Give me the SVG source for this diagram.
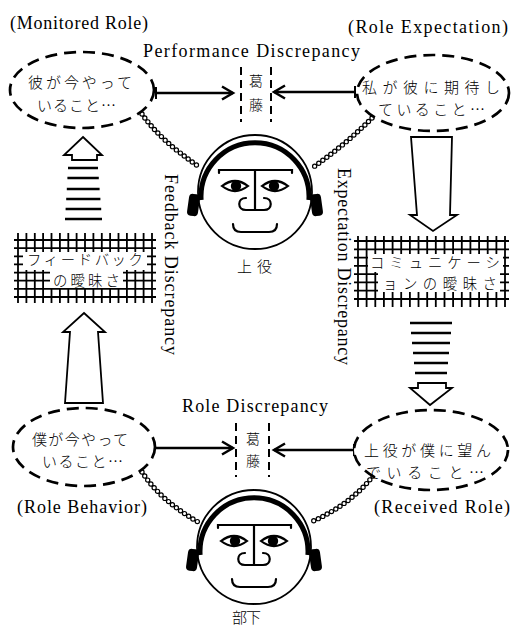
<svg xmlns="http://www.w3.org/2000/svg" xmlns:xlink="http://www.w3.org/1999/xlink" width="512" height="629" viewBox="0 0 512 629">
  <style>
    .en { font-family: "Liberation Serif", "Times New Roman", serif; font-size: 18px; fill: #000; }
    .ja { font-family: "Noto Sans CJK JP", sans-serif; font-size: 15px; font-weight: 300; fill: #000; }
    .sm { font-size: 14px; }
    .grid-txt { font-size: 14.4px; }
    .bubble { fill: #fff; stroke: #000; stroke-width: 2.7; stroke-dasharray: 12 7; }
    .split { stroke: #000; stroke-width: 2; stroke-dasharray: 8 5; fill: none; }
    .arrow { stroke: #000; stroke-width: 2.5; fill: none; marker-start: url(#tick); marker-end: url(#head); }
    .hollow { fill: #fff; stroke: #000; stroke-width: 1.8; stroke-linejoin: miter; }
    .bars { stroke: #000; stroke-width: 2.7; fill: none; }
    .grid { stroke: #000; stroke-width: 1.8; fill: none; }
    .chain-o { fill: none; stroke: #000; stroke-width: 5.4; stroke-linecap: round; stroke-dasharray: 0 5; }
    .chain-i { fill: none; stroke: #fff; stroke-width: 3; stroke-linecap: round; stroke-dasharray: 0 5; }
    .line { fill: none; stroke: #000; stroke-width: 2.2; stroke-linecap: round; }
  </style>
  <defs>
    <marker id="head" markerUnits="userSpaceOnUse" markerWidth="16" markerHeight="16" refX="13" refY="8" orient="auto">
      <path d="M2 1.5 L13 8 L2 14.5" fill="none" stroke="#000" stroke-width="2.5"/>
    </marker>
    <marker id="tick" markerUnits="userSpaceOnUse" markerWidth="6" markerHeight="16" refX="3" refY="8" orient="auto">
      <path d="M3 2 V14" stroke="#000" stroke-width="2"/>
    </marker>
    <!-- face with headphones, drawn around (0,0) -->
    <g id="face">
      <circle r="57" fill="#fff" stroke="#000" stroke-width="1.8"/>
      <path d="M-53.9 8 A54 54 0 1 1 53.9 8" fill="none" stroke="#000" stroke-width="5"/>
      <rect x="-67" y="2" width="11" height="22" rx="4" fill="#000" transform="rotate(8 -61.5 13)"/>
      <rect x="56" y="2" width="11" height="22" rx="4" fill="#000" transform="rotate(-8 61.5 13)"/>
      <path class="line" d="M-36 -19 V-22 H37 V-19"/>
      <path class="line" d="M0 -22 V18"/>
      <path class="line" d="M-9 6 C-18 6 -18 18 -9 18 H9 C18 18 18 6 9 6"/>
      <path class="line" d="M-33 -6 Q-20 -16 -7 -6 Q-20 4 -33 -6 Z"/>
      <path class="line" d="M7 -6 Q20 -16 33 -6 Q20 4 7 -6 Z"/>
      <circle cx="-19" cy="-6" r="5.2" fill="#000"/>
      <circle cx="19" cy="-6" r="5.2" fill="#000"/>
      <path class="line" d="M-22 32 Q-22 40 -14 40 H14 Q22 40 22 32"/>
    </g>
    <path id="chain-tl" d="M142 114 Q160 140 198 166"/>
    <path id="chain-tr" d="M372 118 Q345 145 312 168"/>
    <path id="chain-bl" d="M142 472 Q160 500 198 522"/>
    <path id="chain-br" d="M373 476 Q350 505 311 522"/>
  </defs>

  <rect width="512" height="629" fill="#fff"/>

  <!-- connectors: chains, flow arrows, conflict arrows -->
  <g id="connectors">
    <use xlink:href="#chain-tl" class="chain-o"/><use xlink:href="#chain-tl" class="chain-i"/>
    <use xlink:href="#chain-tr" class="chain-o"/><use xlink:href="#chain-tr" class="chain-i"/>
    <use xlink:href="#chain-bl" class="chain-o"/><use xlink:href="#chain-bl" class="chain-i"/>
    <use xlink:href="#chain-br" class="chain-o"/><use xlink:href="#chain-br" class="chain-i"/>

    <path class="arrow" d="M156 93 H233"/>
    <path class="arrow" d="M355 92 H274"/>
    <path class="arrow" d="M154 448 H233"/>
    <path class="arrow" d="M354 450 H274"/>

    <!-- feedback: up arrows -->
    <path class="hollow" d="M83 137 L102 155 H97 V160 H72 V155 H64 Z"/>
    <path class="bars" d="M68 168 H98 M67.4 178 H98.8 M66.8 189 H99.6 M66.2 199 H100.4 M65.6 209 H101.2 M65 219 H102"/>
    <path class="hollow" d="M84 313 L105 332 H98 L103 403 H65 L70 332 H63 Z"/>

    <!-- expectation: down arrows -->
    <path class="hollow" d="M411 137 H452 L450 215 H457 L433 231 L410 215 H417 Z"/>
    <path class="bars" d="M410 323 H452 M411 333 H451 M412 343 H450 M413 353 H449 M414 363 H448 M415 373 H447"/>
    <path class="hollow" d="M418 383 H446 V388 H452 L430 405 L410 388 H418 Z"/>
  </g>

  <!-- labels -->
  <g id="labels">
    <text class="en" x="10" y="29" textLength="138">(Monitored Role)</text>
    <text class="en" x="348" y="33" textLength="160">(Role Expectation)</text>
    <text class="en" x="143" y="57" textLength="217">Performance Discrepancy</text>
    <text class="en" x="182" y="412" textLength="146">Role Discrepancy</text>
    <text class="en" x="17" y="513" textLength="130">(Role Behavior)</text>
    <text class="en" x="374" y="513" textLength="136">(Received Role)</text>
    <text class="en" transform="translate(165 174) rotate(90)" textLength="181">Feedback Discrepancy</text>
    <text class="en" transform="translate(338 168) rotate(90)" textLength="197">Expectation Discrepancy</text>
  </g>

  <!-- conflict marks -->
  <g id="conflict-top">
    <path class="split" d="M241 67 V122 M271 67 V122"/>
    <text class="ja sm" x="256" y="86" text-anchor="middle">葛</text>
    <text class="ja sm" x="256" y="110" text-anchor="middle">藤</text>
  </g>
  <g id="conflict-bottom">
    <path class="split" d="M236 423 V477 M269 423 V477"/>
    <text class="ja sm" x="253" y="444" text-anchor="middle">葛</text>
    <text class="ja sm" x="253" y="466" text-anchor="middle">藤</text>
  </g>

  <g id="monitored-role">
    <ellipse class="bubble" cx="82" cy="90" rx="72" ry="38"/>
    <text class="ja" x="28" y="88" font-size="15.5" textLength="104">彼が今やって</text>
    <text class="ja" x="37" y="111" font-size="15.5" textLength="79">いること…</text>
  </g>

  <g id="role-expectation">
    <ellipse class="bubble" cx="433" cy="93" rx="76" ry="38"/>
    <text class="ja" x="362" y="93" textLength="138">私が彼に期待し</text>
    <text class="ja" x="378" y="115" textLength="107">ていること…</text>
  </g>

  <g id="role-behavior">
    <ellipse class="bubble" cx="84" cy="447" rx="71" ry="39"/>
    <text class="ja" x="32" y="445" textLength="96">僕が今やって</text>
    <text class="ja" x="42" y="467" textLength="81">いること…</text>
  </g>

  <g id="received-role">
    <ellipse class="bubble" cx="431" cy="450" rx="77" ry="40"/>
    <text class="ja" x="364" y="456" textLength="127">上役が僕に望ん</text>
    <text class="ja" x="366" y="478" textLength="118">でいること…</text>
  </g>

  <g id="boss">
    <use xlink:href="#face" x="255" y="192"/>
    <text class="ja" x="237" y="272" font-size="16" textLength="35">上役</text>
  </g>

  <g id="subordinate">
    <use xlink:href="#face" x="254" y="547"/>
    <text class="ja" x="232" y="623" font-size="16" textLength="29">部下</text>
  </g>

  <g id="feedback-ambiguity">
    <path class="grid" d="M18 233V303M26.4 233V303M34.8 233V303M43.1 233V303M51.5 233V303M59.9 233V303M68.3 233V303M76.6 233V303M85 233V303M93.4 233V303M101.8 233V303M110.1 233V303M118.5 233V303M126.9 233V303M135.3 233V303M143.6 233V303M152 233V303"/>
    <path class="grid" d="M14 240H156M14 248.1H156M14 256.3H156M14 264.4H156M14 272.6H156M14 280.7H156M14 288.9H156M14 297H156"/>
    <rect x="23" y="252" width="124" height="18" fill="#fff"/>
    <rect x="50" y="269" width="73" height="19" fill="#fff"/>
    <text class="ja grid-txt" x="27" y="265" textLength="116">フィードバック</text>
    <text class="ja grid-txt" x="53" y="286" textLength="67">の曖昧さ</text>
  </g>

  <g id="communication-ambiguity">
    <path class="grid" d="M358 236V307M366.6 236V307M375.3 236V307M383.9 236V307M392.6 236V307M401.2 236V307M409.9 236V307M418.5 236V307M427.2 236V307M435.8 236V307M444.5 236V307M453.1 236V307M461.8 236V307M470.4 236V307M479.1 236V307M487.7 236V307M496.4 236V307M505 236V307"/>
    <path class="grid" d="M354 241H509M354 249.3H509M354 257.6H509M354 265.9H509M354 274.1H509M354 282.4H509M354 290.7H509M354 299H509"/>
    <rect x="368" y="254" width="135" height="18" fill="#fff"/>
    <rect x="378" y="271" width="122" height="21" fill="#fff"/>
    <text class="ja grid-txt" x="370" y="268" textLength="130">コミュニケーシ</text>
    <text class="ja grid-txt" x="383" y="289" textLength="114">ョンの曖昧さ</text>
  </g>
</svg>
